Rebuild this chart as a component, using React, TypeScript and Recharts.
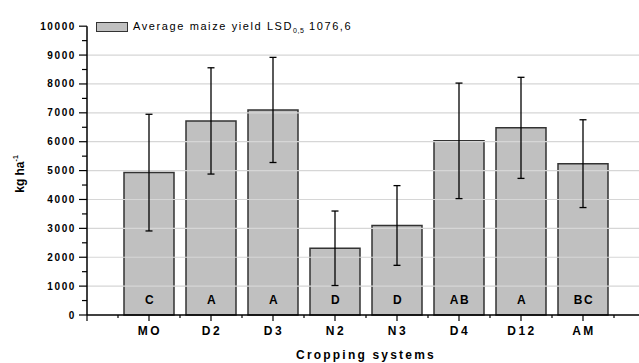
import { BarChart, Bar, XAxis, YAxis, ErrorBar, LabelList, ReferenceLine, Legend } from "recharts";

const categories = ["MO", "D2", "D3", "N2", "N3", "D4", "D12", "AM"];
const yields = [4930, 6720, 7100, 2310, 3100, 6030, 6480, 5240];
const errors = [2020, 1840, 1820, 1290, 1380, 2000, 1750, 1520];
const groups = ["C", "A", "A", "D", "D", "AB", "A", "BC"];

const xTicks = [0, 0.5, 1, 1.5, 2, 2.5, 3, 3.5, 4, 4.5, 5, 5.5, 6, 6.5, 7, 7.5, 8, 8.5, 9];
const yTicks = [0, 500, 1000, 1500, 2000, 2500, 3000, 3500, 4000, 4500, 5000, 5500, 6000, 6500, 7000, 7500, 8000, 8500, 9000, 9500, 10000];
const gridValues = [1000, 2000, 3000, 4000, 5000, 6000, 7000, 8000, 9000];

const data = categories.map((c, i) => ({
  pos: i + 1,
  name: c,
  value: yields[i],
  err: errors[i],
  group: groups[i],
}));

const FONT = "'Liberation Sans', Arial, sans-serif";

const BottomTick = (props: any) => {
  const { x, y, payload } = props;
  const v = payload.value;
  const major = Number.isInteger(v);
  const label = major && v >= 1 && v <= categories.length ? categories[v - 1] : null;
  return (
    <g>
      <line x1={x} y1={y} x2={x} y2={y + (major ? 6 : 3)} stroke="#000" strokeWidth={1.2} />
      {label && (
        <text x={x + 1} y={y + 20} textAnchor="middle" fontFamily={FONT} fontSize={12} fontWeight="bold" letterSpacing={2.5} fill="#000">
          {label}
        </text>
      )}
    </g>
  );
};

const TopTick = (props: any) => {
  const { x, y, payload } = props;
  const major = Number.isInteger(payload.value);
  return <line x1={x} y1={y} x2={x} y2={y + (major ? 5 : 3)} stroke="#000" strokeWidth={1.2} />;
};

const LeftTick = (props: any) => {
  const { x, y, payload } = props;
  const major = payload.value % 1000 === 0;
  return (
    <g>
      <line x1={x - (major ? 8 : 5)} y1={y} x2={x} y2={y} stroke="#000" strokeWidth={1.2} />
      {major && (
        <text x={x - 11} y={y + 3.5} textAnchor="end" fontFamily={FONT} fontSize={10} fontWeight="bold" letterSpacing={1.6} fill="#000">
          {payload.value}
        </text>
      )}
    </g>
  );
};

const GroupLabel = (props: any) => {
  const { x, y, width, height, value } = props;
  return (
    <text x={x + width / 2 + 1} y={y + height - 11} textAnchor="middle" fontFamily={FONT} fontSize={12} fontWeight="bold" letterSpacing={1.5} fill="#000">
      {value}
    </text>
  );
};

const YLabel = () => (
  <text x={24} y={174} transform="rotate(-90 24 174)" textAnchor="middle" fontFamily={FONT} fontSize={12} fontWeight="bold" fill="#000">
    kg ha<tspan fontSize={7} dy={-6}>-1</tspan>
  </text>
);

const LegendBox = () => (
  <div style={{ display: "flex", alignItems: "center", fontFamily: FONT, fontSize: 11, letterSpacing: 1.6, color: "#000" }}>
    <span style={{ display: "inline-block", width: 30, height: 8, background: "#c0c0c0", border: "1px solid #333", marginRight: 5 }} />
    <span>
      Average maize yield LSD<sub style={{ fontSize: 7, letterSpacing: 0.5 }}>0,5</sub> 1076,6
    </span>
  </div>
);

export default function App() {
  return (
    <div style={{ position: "absolute", left: 0, top: 0, width: 639, height: 363, overflow: "hidden", background: "#fff" }}>
      <BarChart width={650} height={363} data={data} margin={{ top: 12, right: 5, left: 0, bottom: 0 }}>
        {gridValues.map((v) => (
          <ReferenceLine key={v} y={v} stroke="#d6d6d6" strokeWidth={1.2} />
        ))}
        <XAxis
          dataKey="pos"
          type="number"
          domain={[0, 9]}
          ticks={xTicks}
          interval={0}
          height={48}
          tickSize={0}
          tickMargin={0}
          tickLine={false}
          tick={<BottomTick />}
          axisLine={{ stroke: "#000", strokeWidth: 1.5 }}
          label={{ value: "Cropping systems", position: "insideBottom", offset: 4, fontFamily: FONT, fontSize: 12, fontWeight: "bold", letterSpacing: 2.2, fill: "#000" }}
        />
        <XAxis
          xAxisId="top"
          dataKey="pos"
          type="number"
          orientation="top"
          domain={[0, 9]}
          ticks={xTicks}
          interval={0}
          height={0}
          tickSize={0}
          tickMargin={0}
          tickLine={false}
          tick={<TopTick />}
          axisLine={{ stroke: "#000", strokeWidth: 1.5 }}
        />
        <YAxis
          width={87}
          domain={[0, 10000]}
          ticks={yTicks}
          interval={0}
          tickSize={0}
          tickMargin={0}
          tickLine={false}
          tick={<LeftTick />}
          axisLine={{ stroke: "#000", strokeWidth: 1.5 }}
          label={{ content: () => <YLabel /> }}
        />
        <Legend verticalAlign="top" align="left" content={<LegendBox />} wrapperStyle={{ position: "absolute", top: 20, left: 96, width: "auto" }} />
        <Bar dataKey="value" name="Average maize yield" barSize={50} fill="#c0c0c0" stroke="#333" strokeWidth={1.5} isAnimationActive={false}>
          <ErrorBar dataKey="err" width={3.5} stroke="#000" strokeWidth={1.3} />
          <LabelList dataKey="group" content={<GroupLabel />} />
        </Bar>
      </BarChart>
    </div>
  );
}
